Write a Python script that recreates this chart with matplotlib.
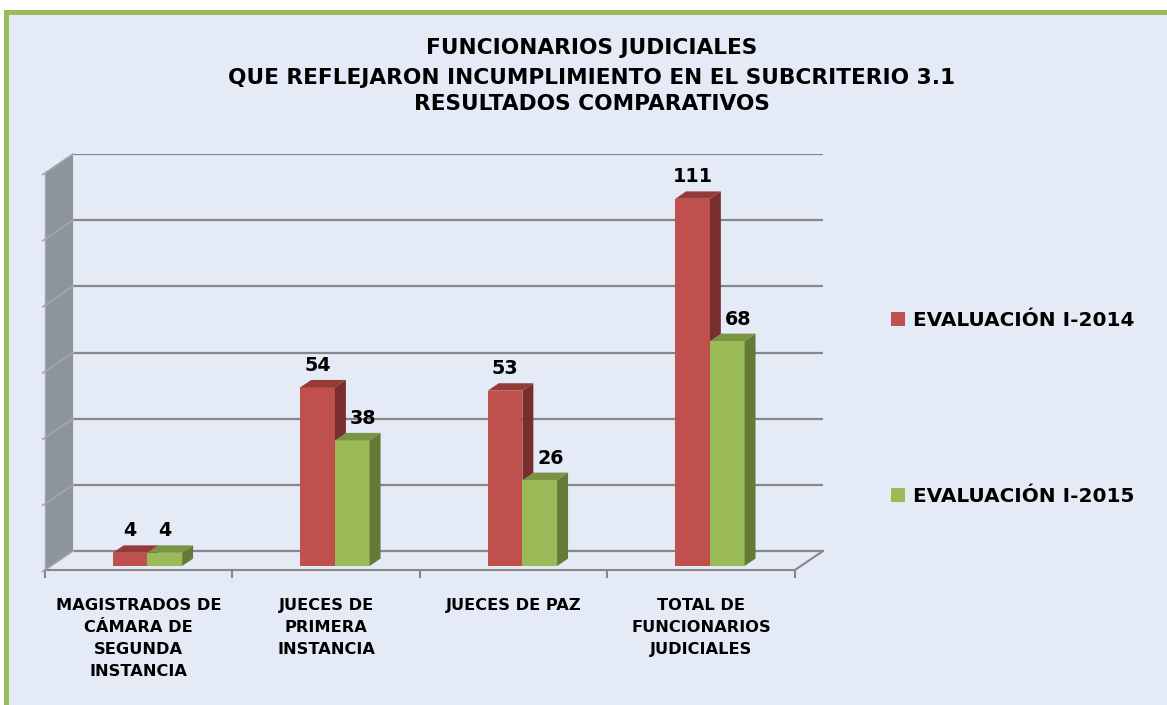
import matplotlib
matplotlib.use("Agg")
import matplotlib.pyplot as plt
from matplotlib.patches import Rectangle, Polygon, Patch

# ---------------- data ----------------
categories = [
    "MAGISTRADOS DE\nCÁMARA DE\nSEGUNDA\nINSTANCIA",
    "JUECES DE\nPRIMERA\nINSTANCIA",
    "JUECES DE PAZ",
    "TOTAL DE\nFUNCIONARIOS\nJUDICIALES",
]
series_names = ["EVALUACIÓN I-2014", "EVALUACIÓN I-2015"]
values_2014 = [4, 54, 53, 111]
values_2015 = [4, 38, 26, 68]
y_ticks = [0, 20, 40, 60, 80, 100, 120]
title_lines = [
    "FUNCIONARIOS JUDICIALES",
    "QUE REFLEJARON INCUMPLIMIENTO EN EL SUBCRITERIO 3.1",
    "RESULTADOS COMPARATIVOS",
]

# ---------------- style ----------------
W, H, DPI = 1167, 705, 100
BG = "#E4EBF7"
BORDER = "#9BBB59"
GRID = "#878787"
WALL = "#8E949C"
front_colors = ["#C0504D", "#9BBB59"]
side_colors = ["#782E2C", "#667A38"]
top_colors = ["#963A38", "#7A9444"]
label_shift = [[0, 0, 0, 0], [0, 1, 1, 1]]  # data label x-shift (in bar depths)

PX_X = 187.0                 # px per category unit
PX_V = 397.0 / 120.0         # px per value unit
DX = 28.0 / PX_X             # full depth offset in x units
DY = 19.0 / PX_V             # full depth offset in value units
D0, D1 = 0.21, 0.60          # bar depth range (fraction of full depth)
BW = 0.185                   # bar width
GC = 0.515                   # group centre offset

fig = plt.figure(figsize=(W / DPI, H / DPI), dpi=DPI)
fig.patch.set_facecolor("white")


def fx(px):
    return px / W


def fy(py):
    return 1 - py / H


fig.patches.append(Rectangle((fx(4), 0), 1, fy(10), transform=fig.transFigure,
                             facecolor=BORDER, edgecolor="none", zorder=-10))
fig.patches.append(Rectangle((fx(9), 0), 1, fy(15), transform=fig.transFigure,
                             facecolor=BG, edgecolor="none", zorder=-9))

ax = fig.add_axes([fx(45), fy(570), (823 - 45) / W, (570 - 154) / H])
ax.patch.set_visible(False)
n = len(categories)
ymax = y_ticks[-1]
ax.set_xlim(0, n + DX)
ax.set_ylim(0, ymax + DY)
for s in ax.spines.values():
    s.set_visible(False)
ax.set_yticks([])
ax.set_xticks(range(n + 1))
ax.set_xticklabels([])
ax.tick_params(axis="x", length=5.5, width=1.5, color=GRID, direction="out")

# side wall
ax.add_patch(Polygon([(0, 0), (DX, DY), (DX, ymax + DY), (0, ymax)],
                     closed=True, facecolor=WALL, edgecolor="none", zorder=1))
# floor
ax.add_patch(Polygon([(0, 0), (n, 0), (n + DX, DY), (DX, DY)],
                     closed=True, facecolor=BG, edgecolor="none", zorder=1))
# back-wall gridlines and side-wall lines
for v in y_ticks:
    ax.plot([DX, n + DX], [v + DY, v + DY], color=GRID, lw=1.6, zorder=1.5,
            solid_capstyle="butt")
    ax.plot([-0.012, 0, DX], [v - 0.012 / DX * DY, v, v + DY], color="#A3A7AD",
            lw=1.2, zorder=1.6, clip_on=False)
# floor edges
ax.plot([0, n, n + DX], [0, 0, DY], color=GRID, lw=1.5, zorder=1.7, clip_on=False)
ax.plot([0, 0], [0, ymax], color="#A3A7AD", lw=1.0, zorder=1.7, clip_on=False)

# bars
for k, vals in enumerate([values_2014, values_2015]):
    lefts = [i + GC - BW + k * BW + D0 * DX for i in range(n)]
    bars = ax.bar(lefts, vals, width=BW, bottom=D0 * DY, align="edge",
                  color=front_colors[k], edgecolor="none", zorder=3 + k)
    dd = D1 - D0
    for i, r in enumerate(bars.patches):
        x0, y0, w, h = r.get_x(), r.get_y(), r.get_width(), r.get_height()
        x1, y1 = x0 + w, y0 + h
        ax.add_patch(Polygon([(x1, y0), (x1, y1), (x1 + dd * DX, y1 + dd * DY),
                              (x1 + dd * DX, y0 + dd * DY)], closed=True,
                             facecolor=side_colors[k], edgecolor="none", zorder=3.2 + k))
        ax.add_patch(Polygon([(x0, y1), (x1, y1), (x1 + dd * DX, y1 + dd * DY),
                              (x0 + dd * DX, y1 + dd * DY)], closed=True,
                             facecolor=top_colors[k], edgecolor="none", zorder=3.3 + k))
        lx = x0 + w / 2 + label_shift[k][i] * dd * DX
        ax.annotate(str(vals[i]), xy=(lx, y1 + dd * DY), xytext=(0, 6.5),
                    textcoords="offset points", ha="center", va="baseline",
                    fontsize=13.8, fontweight="bold", color="black",
                    annotation_clip=False, zorder=10)

# category labels
for i, cat in enumerate(categories):
    for j, line in enumerate(cat.split("\n")):
        ax.annotate(line, xy=(i + 0.5, 0), xytext=(0, -(40 + 22 * j) * 0.72),
                    textcoords="offset points", ha="center", va="baseline",
                    fontsize=11.7, fontweight="bold", color="black",
                    annotation_clip=False)

# title
for line, base in zip(title_lines, [53.5, 84, 110]):
    fig.text(fx(592), fy(base), line, ha="center", va="baseline",
             fontsize=15.6, fontweight="bold", color="black")

# legend
handles = [Patch(facecolor=c, edgecolor="none") for c in front_colors]
fig.legend(handles, series_names, loc="center left",
           bbox_to_anchor=(fx(891), fy(408)), frameon=False,
           prop={"weight": "bold", "size": 14.4},
           handlelength=0.7, handleheight=0.7, handletextpad=0.4,
           labelspacing=7.85, borderpad=0, borderaxespad=0)

fig.savefig("out.png", dpi=DPI, facecolor=fig.get_facecolor())
